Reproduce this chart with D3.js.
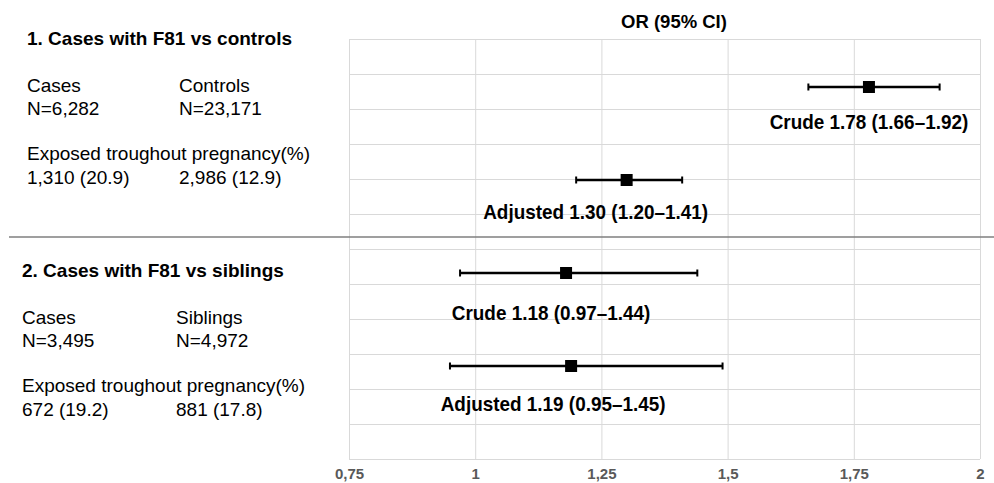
<!DOCTYPE html>
<html>
<head>
<meta charset="utf-8">
<script src="https://cdn.jsdelivr.net/npm/d3@7"></script>
<style>
  body { margin: 0; background: #fff; }
  svg { display: block; font-family: "Liberation Sans", Arial, sans-serif; }
  .grid line { stroke: #d9d9d9; stroke-width: 1; }
  .grid path { display: none; }
  .xaxis text { font-size: 15px; font-weight: bold; fill: #595959; }
</style>
</head>
<body>
<div class="chart"></div>
<script>
// text panel on the left
var groupTitles = ["1. Cases with F81 vs controls", "2. Cases with F81 vs siblings"];
var colHeads = [["Cases", "Controls"], ["Cases", "Siblings"]];
var colN = [["N=6,282", "N=23,171"], ["N=3,495", "N=4,972"]];
var exposedHead = "Exposed troughout pregnancy(%)";
var exposedVals = [["1,310 (20.9)", "2,986 (12.9)"], ["672 (19.2)", "881 (17.8)"]];

// forest plot values
var rows = ["crude1", "adj1", "crude2", "adj2"];
var orValue = [1.78, 1.30, 1.18, 1.19];
var ciLow = [1.66, 1.20, 0.97, 0.95];
var ciHigh = [1.92, 1.41, 1.44, 1.49];
var estLabels = ["Crude 1.78 (1.66\u20131.92)", "Adjusted 1.30 (1.20\u20131.41)",
                 "Crude 1.18 (0.97\u20131.44)", "Adjusted 1.19 (0.95\u20131.45)"];
var xTicks = [0.75, 1, 1.25, 1.5, 1.75, 2];

var svgWidth = 994;
var svgHeight = 483;

var plot = { left: 349, right: 980, top: 39, bottom: 459 };

// label placement (manual, like the original)
var labelDx = [0, -31, -15, -18];
var labelDy = [42, 39, 47, 45];

var svg = d3.select(".chart")
  .append("svg")
  .attr("width", svgWidth)
  .attr("height", svgHeight);

var xScale = d3.scaleLinear()
  .domain([0.75, 2])
  .range([plot.left, plot.right]);

var yGrid = d3.scaleLinear()
  .domain([0, 12])
  .range([plot.top, plot.bottom]);

var yRow = d3.scalePoint()
  .domain(rows)
  .range([87, 366]);

// horizontal gridlines
svg.append("g")
  .attr("class", "grid")
  .attr("transform", `translate(${plot.left}, 0)`)
  .call(d3.axisLeft(yGrid)
    .tickValues(d3.range(13))
    .tickSize(-(plot.right - plot.left))
    .tickFormat(""));

// vertical gridlines + tick labels
var xAxis = svg.append("g")
  .attr("class", "grid xaxis")
  .attr("transform", `translate(0, ${plot.bottom})`)
  .call(d3.axisBottom(xScale)
    .tickValues(xTicks)
    .tickSize(-(plot.bottom - plot.top))
    .tickPadding(9)
    .tickFormat(d => String(d).replace(".", ",")));

// separator between the two comparisons
svg.append("line")
  .attr("x1", 9).attr("x2", svgWidth)
  .attr("y1", 237).attr("y2", 237)
  .attr("stroke", "#7f7f7f")
  .attr("stroke-width", 1.5);

// title
svg.append("text")
  .attr("x", 674)
  .attr("y", 28)
  .attr("text-anchor", "middle")
  .attr("font-size", "18.5px")
  .attr("font-weight", "bold")
  .text("OR (95% CI)");

// left text blocks
var sectionDy = [0, 232];
var colX = [[27, 179], [22, 176]];
groupTitles.forEach(function (t, i) {
  var g = svg.append("g").attr("transform", `translate(0, ${sectionDy[i]})`);
  g.append("text")
    .attr("x", colX[i][0]).attr("y", 45)
    .attr("font-size", "19px").attr("font-weight", "bold")
    .text(t);
  [0, 1].forEach(function (c) {
    g.append("text").attr("x", colX[i][c]).attr("y", 91.5)
      .attr("font-size", "19px").text(colHeads[i][c]);
    g.append("text").attr("x", colX[i][c]).attr("y", 115)
      .attr("font-size", "19px").text(colN[i][c]);
    g.append("text").attr("x", colX[i][c]).attr("y", 184)
      .attr("font-size", "19px").text(exposedVals[i][c]);
  });
  g.append("text").attr("x", colX[i][0]).attr("y", 160)
    .attr("font-size", "19px").text(exposedHead);
});

// error bars
var bars = svg.selectAll(".ci")
  .data(rows)
  .enter()
  .append("g")
  .attr("class", "ci");

bars.append("line")
  .attr("x1", (d, i) => xScale(ciLow[i]))
  .attr("x2", (d, i) => xScale(ciHigh[i]))
  .attr("y1", d => yRow(d))
  .attr("y2", d => yRow(d))
  .attr("stroke", "#000")
  .attr("stroke-width", 2.5);

[ciLow, ciHigh].forEach(function (arr) {
  bars.append("line")
    .attr("x1", (d, i) => xScale(arr[i]))
    .attr("x2", (d, i) => xScale(arr[i]))
    .attr("y1", d => yRow(d) - 3.5)
    .attr("y2", d => yRow(d) + 3.5)
    .attr("stroke", "#000")
    .attr("stroke-width", 2);
});

// point estimates
bars.append("rect")
  .attr("x", (d, i) => xScale(orValue[i]) - 6)
  .attr("y", d => yRow(d) - 6)
  .attr("width", 12)
  .attr("height", 12)
  .attr("fill", "#000");

// estimate labels (narrow bold, like the original)
bars.append("text")
  .attr("x", (d, i) => xScale(orValue[i]) + labelDx[i])
  .attr("y", (d, i) => yRow(d) + labelDy[i])
  .attr("text-anchor", "middle")
  .attr("font-size", "21px")
  .attr("font-weight", "bold")
  .text((d, i) => estLabels[i])
  .each(function () {
    var w = this.getComputedTextLength();
    d3.select(this)
      .attr("textLength", w * 0.9)
      .attr("lengthAdjust", "spacingAndGlyphs");
  });
</script>
</body>
</html>
